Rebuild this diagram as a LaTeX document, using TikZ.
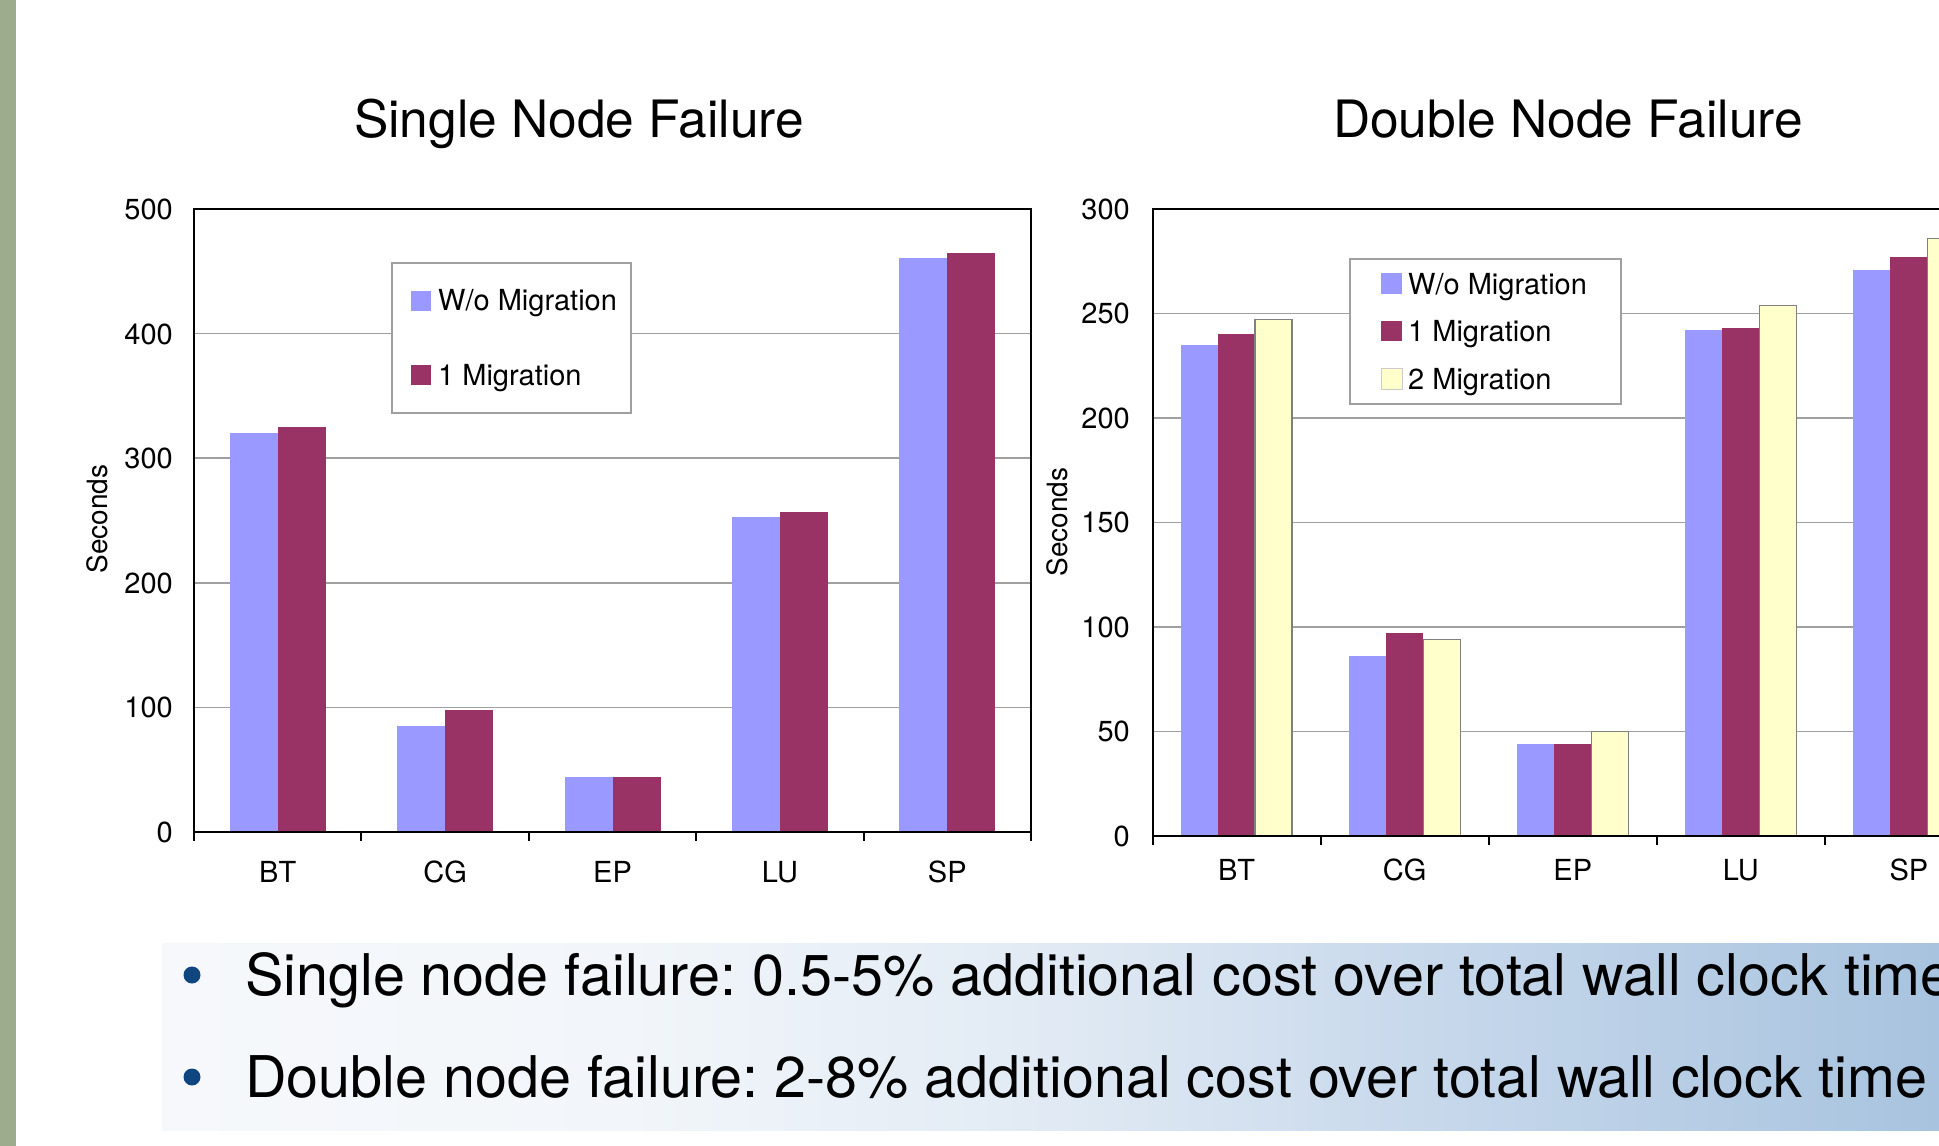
\documentclass[tikz,border=0pt]{standalone}
\usepackage{fontspec}
\setmainfont{TeX Gyre Heros}
\frenchspacing
\definecolor{sage}{RGB}{158,172,142}
\definecolor{cblue}{RGB}{153,153,255}
\definecolor{cred}{RGB}{153,51,102}
\definecolor{cyel}{RGB}{255,255,204}
\definecolor{gridgray}{RGB}{160,160,160}
\definecolor{dotblue}{RGB}{16,70,128}
\pgfdeclarehorizontalshading{bandshade}{100bp}{%
  color(0bp)=(rgb,255:red,246;green,248;blue,251); color(25bp)=(rgb,255:red,246;green,248;blue,251);
  color(38bp)=(rgb,255:red,242;green,246;blue,250);
  color(50bp)=(rgb,255:red,225;green,234;blue,244);
  color(62bp)=(rgb,255:red,196;green,214;blue,234);
  color(75bp)=(rgb,255:red,168;green,195;blue,223);
  color(100bp)=(rgb,255:red,168;green,195;blue,223)}
\begin{document}
\begin{tikzpicture}[x=1pt,y=-1pt,
  titletext/.style={font=\fontsize{51.5}{60}\selectfont, anchor=base, inner sep=0pt},
  ylab/.style={font=\fontsize{29}{34}\selectfont, anchor=base east, inner sep=0pt},
  catlab/.style={font=\fontsize{29}{34}\selectfont, anchor=base, inner sep=0pt},
  legtext/.style={font=\fontsize{29}{34}\selectfont, anchor=base west, inner sep=0pt},
  axtitle/.style={font=\fontsize{28}{34}\selectfont, rotate=90, inner sep=0pt},
  bullettext/.style={font=\fontsize{57.5}{68}\selectfont, anchor=base west, inner sep=0pt},
  gridline/.style={draw=gridgray, line width=1.5pt},
  axisline/.style={draw=black, line width=2pt},
  legbox/.style={draw=gridgray, line width=1.5pt, fill=white},
  yelbar/.style={fill=cyel, draw=gray, line width=1.2pt},
  bulletdot/.style={circle, fill=dotblue, minimum size=17pt, inner sep=0pt}]
\useasboundingbox (0,0) rectangle (1939,1146);
\clip (0,0) rectangle (1939,1146);
\fill[white] (0,0) rectangle (1939,1146);
\fill[sage] (0,0) rectangle (16,1146);

% ---------------- titles
\node[titletext] (t1) at (579,137) {Single Node Failure};
\node[titletext] (t2) at (1568,137) {Double Node Failure};

% ---------------- left chart
\foreach \v in {100,200,300,400}
  \draw[gridline] (194,{832-\v*1.246}) -- (1031,{832-\v*1.246});
\foreach \v in {0,100,...,500}
  \node[ylab] (ly\v) at (173,{832-\v*1.246+10.4}) {\v};
\foreach \n/\a/\b [count=\k from 0] in {BT/320/325,CG/85/98,EP/44/44,LU/253/257,SP/461/465}{
  \pgfmathsetmacro\c{194+167.4*\k+83.7}
  \fill[cblue] (\c-48,832) rectangle (\c,{832-\a*1.246});
  \fill[cred] (\c,832) rectangle (\c+48,{832-\b*1.246});
  \node[catlab] (l\n) at (\c,882) {\n};
}
\draw[axisline] (194,209) rectangle (1031,832);
\foreach \k in {0,...,5}
  \draw[axisline] (194+167.4*\k,832) -- ++(0,9);
\node[axtitle] (ls) at (97,519) {Seconds};
% legend
\draw[legbox] (392,263) rectangle (631,413);
\fill[cblue] (411,291) rectangle (431,311);
\fill[cred] (411,365) rectangle (431,385);
\node[legtext] (lg1) at (438,310) {W/o Migration};
\node[legtext] (lg2) at (438,385) {1 Migration};

% ---------------- right chart
\foreach \v in {50,100,150,200,250}
  \draw[gridline] (1152.5,{836-\v*2.09}) -- (1945,{836-\v*2.09});
\foreach \v in {0,50,...,300}
  \node[ylab] (ry\v) at (1130,{836-\v*2.09+10.4}) {\v};
\foreach \n/\a/\b/\y [count=\k from 0] in {BT/235/240/247,CG/86/97/94,EP/44/44/50,LU/242/243/254,SP/271/277/286}{
  \pgfmathsetmacro\c{1152.5+168.1*\k+84.05}
  \fill[cblue] (\c-55.5,836) rectangle (\c-18.5,{836-\a*2.09});
  \fill[cred] (\c-18.5,836) rectangle (\c+18.5,{836-\b*2.09});
  \draw[yelbar] (\c+18.5,836) rectangle (\c+55.5,{836-\y*2.09});
  \node[catlab] (r\n) at (\c,880) {\n};
}
\draw[axisline] (1152.5,836) -- (1152.5,209) -- (1950,209);
\draw[axisline] (1152.5,836) -- (1950,836);
\foreach \k in {0,...,4}
  \draw[axisline] (1152.5+168.1*\k,836) -- ++(0,9);
\node[axtitle] (rs) at (1057,522) {Seconds};
% legend
\draw[legbox] (1350,259) rectangle (1621,404);
\fill[cblue] (1381,273) rectangle (1402,294);
\fill[cred] (1381,321) rectangle (1402,341);
\draw[fill=cyel, draw=gray!40, line width=0.8pt] (1381,368) rectangle (1402,389);
\node[legtext] (rg1) at (1408,294) {W/o Migration};
\node[legtext] (rg2) at (1408,341) {1 Migration};
\node[legtext] (rg3) at (1408,389) {2 Migration};

% ---------------- bullet band
\shade[shading=bandshade] (162,943) rectangle (1939,1130);
\node[bulletdot] (d1) at (192,975) {};
\node[bulletdot] (d2) at (192,1077) {};
\node[bullettext] (b1) at (245,995) {Single node failure: 0.5-5\% additional cost over total wall clock time};
\node[bullettext] (b2) at (245,1097) {Double node failure: 2-8\% additional cost over total wall clock time};
\end{tikzpicture}
\end{document}
